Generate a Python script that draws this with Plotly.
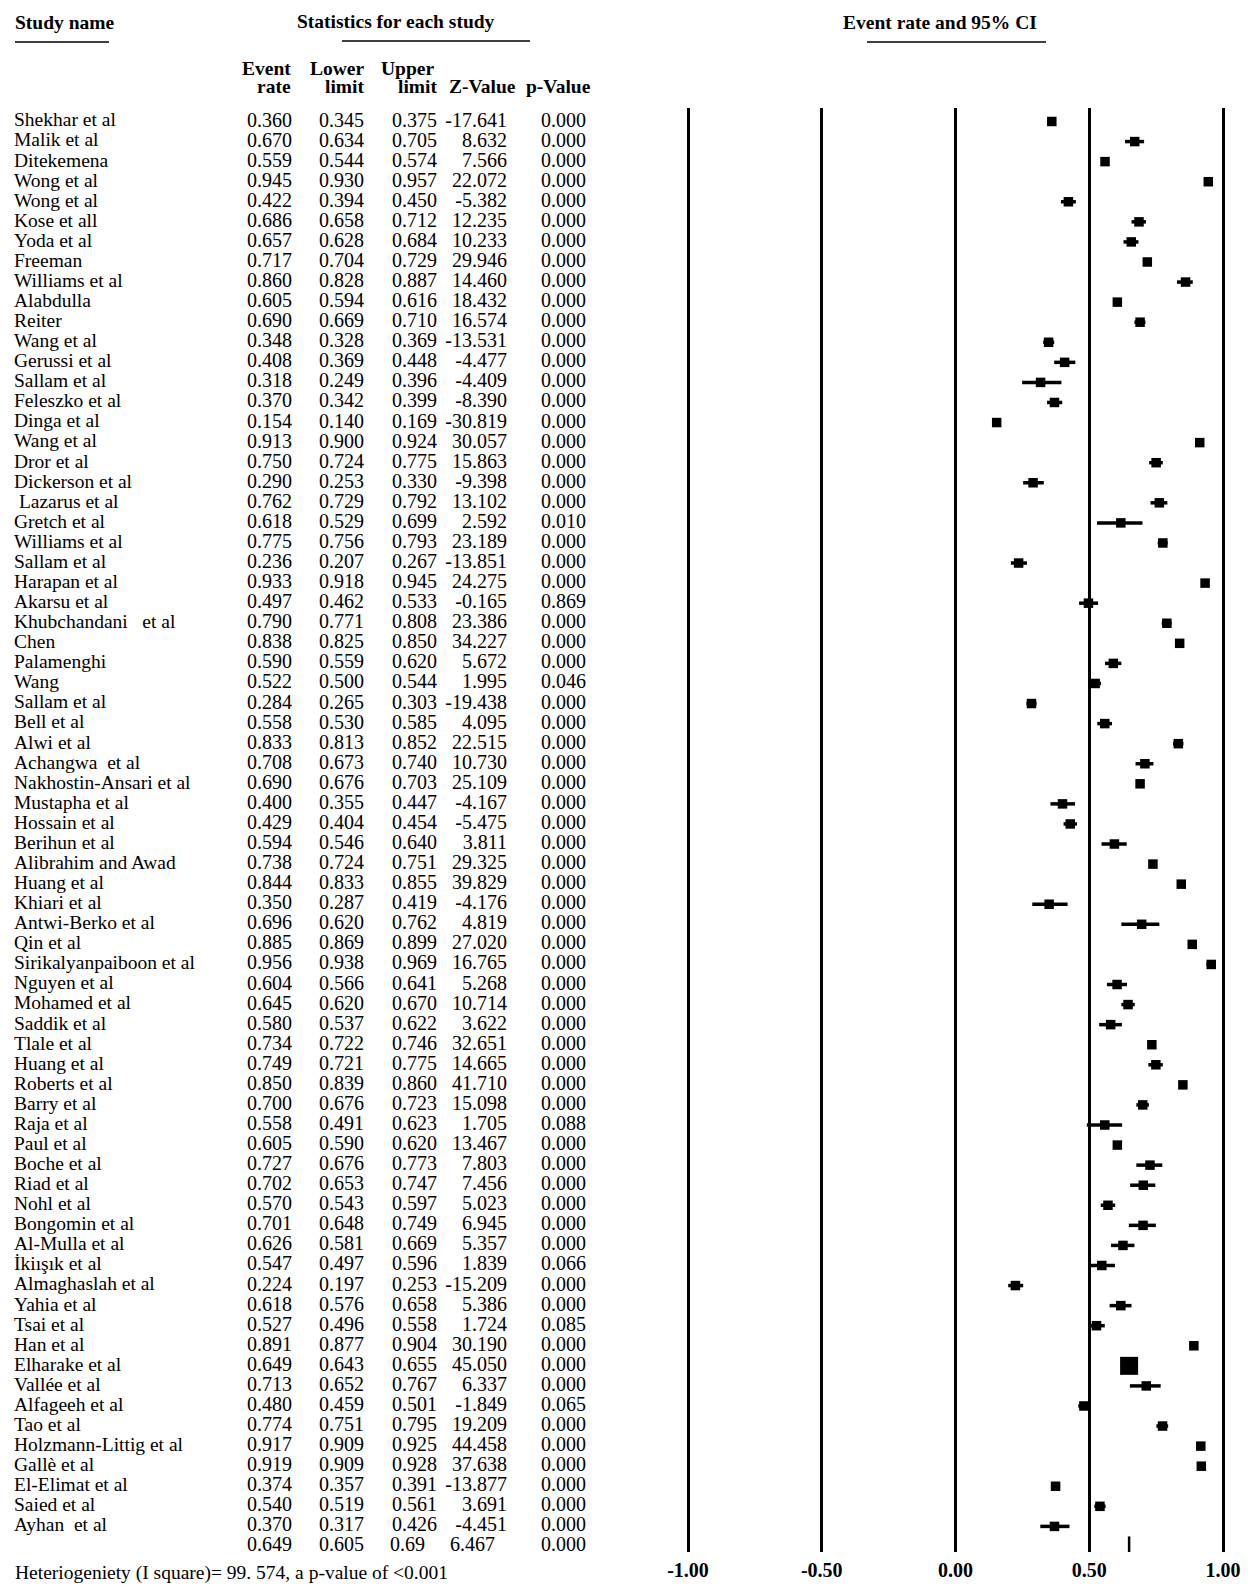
import plotly.graph_objects as go

# ---------------- data ----------------
study_names = [
    "Shekhar et al", "Malik et al", "Ditekemena", "Wong et al", "Wong et al", "Kose et all",
    "Yoda et al", "Freeman", "Williams et al", "Alabdulla", "Reiter", "Wang et al",
    "Gerussi et al", "Sallam et al", "Feleszko et al", "Dinga et al", "Wang et al", "Dror et al",
    "Dickerson et al", "\u00a0Lazarus et al", "Gretch et al", "Williams et al", "Sallam et al",
    "Harapan et al", "Akarsu et al", "Khubchandani\u00a0\u00a0 et al", "Chen", "Palamenghi", "Wang",
    "Sallam et al", "Bell et al", "Alwi et al", "Achangwa\u00a0 et al", "Nakhostin-Ansari et al",
    "Mustapha et al", "Hossain et al", "Berihun et al", "Alibrahim and Awad", "Huang et al",
    "Khiari et al", "Antwi-Berko et al", "Qin et al", "Sirikalyanpaiboon et al", "Nguyen et al",
    "Mohamed et al", "Saddik et al", "Tlale et al", "Huang et al", "Roberts et al", "Barry et al",
    "Raja et al", "Paul et al", "Boche et al", "Riad et al", "Nohl et al", "Bongomin et al",
    "Al-Mulla et al", "İkiışık et al", "Almaghaslah et al", "Yahia et al", "Tsai et al",
    "Han et al", "Elharake et al", "Vallée et al", "Alfageeh et al", "Tao et al",
    "Holzmann-Littig et al", "Gallè et al", "El-Elimat et al", "Saied et al", "Ayhan\u00a0 et al",
]
event_rate = [
    0.360, 0.670, 0.559, 0.945, 0.422, 0.686, 0.657, 0.717, 0.860, 0.605, 0.690, 0.348,
    0.408, 0.318, 0.370, 0.154, 0.913, 0.750, 0.290, 0.762, 0.618, 0.775, 0.236, 0.933,
    0.497, 0.790, 0.838, 0.590, 0.522, 0.284, 0.558, 0.833, 0.708, 0.690, 0.400, 0.429,
    0.594, 0.738, 0.844, 0.350, 0.696, 0.885, 0.956, 0.604, 0.645, 0.580, 0.734, 0.749,
    0.850, 0.700, 0.558, 0.605, 0.727, 0.702, 0.570, 0.701, 0.626, 0.547, 0.224, 0.618,
    0.527, 0.891, 0.649, 0.713, 0.480, 0.774, 0.917, 0.919, 0.374, 0.540, 0.370,
]
lower_limit = [
    0.345, 0.634, 0.544, 0.930, 0.394, 0.658, 0.628, 0.704, 0.828, 0.594, 0.669, 0.328,
    0.369, 0.249, 0.342, 0.140, 0.900, 0.724, 0.253, 0.729, 0.529, 0.756, 0.207, 0.918,
    0.462, 0.771, 0.825, 0.559, 0.500, 0.265, 0.530, 0.813, 0.673, 0.676, 0.355, 0.404,
    0.546, 0.724, 0.833, 0.287, 0.620, 0.869, 0.938, 0.566, 0.620, 0.537, 0.722, 0.721,
    0.839, 0.676, 0.491, 0.590, 0.676, 0.653, 0.543, 0.648, 0.581, 0.497, 0.197, 0.576,
    0.496, 0.877, 0.643, 0.652, 0.459, 0.751, 0.909, 0.909, 0.357, 0.519, 0.317,
]
upper_limit = [
    0.375, 0.705, 0.574, 0.957, 0.450, 0.712, 0.684, 0.729, 0.887, 0.616, 0.710, 0.369,
    0.448, 0.396, 0.399, 0.169, 0.924, 0.775, 0.330, 0.792, 0.699, 0.793, 0.267, 0.945,
    0.533, 0.808, 0.850, 0.620, 0.544, 0.303, 0.585, 0.852, 0.740, 0.703, 0.447, 0.454,
    0.640, 0.751, 0.855, 0.419, 0.762, 0.899, 0.969, 0.641, 0.670, 0.622, 0.746, 0.775,
    0.860, 0.723, 0.623, 0.620, 0.773, 0.747, 0.597, 0.749, 0.669, 0.596, 0.253, 0.658,
    0.558, 0.904, 0.655, 0.767, 0.501, 0.795, 0.925, 0.928, 0.391, 0.561, 0.426,
]
z_value = [
    -17.641, 8.632, 7.566, 22.072, -5.382, 12.235, 10.233, 29.946, 14.460, 18.432, 16.574, -13.531,
    -4.477, -4.409, -8.390, -30.819, 30.057, 15.863, -9.398, 13.102, 2.592, 23.189, -13.851, 24.275,
    -0.165, 23.386, 34.227, 5.672, 1.995, -19.438, 4.095, 22.515, 10.730, 25.109, -4.167, -5.475,
    3.811, 29.325, 39.829, -4.176, 4.819, 27.020, 16.765, 5.268, 10.714, 3.622, 32.651, 14.665,
    41.710, 15.098, 1.705, 13.467, 7.803, 7.456, 5.023, 6.945, 5.357, 1.839, -15.209, 5.386,
    1.724, 30.190, 45.050, 6.337, -1.849, 19.209, 44.458, 37.638, -13.877, 3.691, -4.451,
]
p_value = [
    0.000, 0.000, 0.000, 0.000, 0.000, 0.000, 0.000, 0.000, 0.000, 0.000, 0.000, 0.000,
    0.000, 0.000, 0.000, 0.000, 0.000, 0.000, 0.000, 0.000, 0.010, 0.000, 0.000, 0.000,
    0.869, 0.000, 0.000, 0.000, 0.046, 0.000, 0.000, 0.000, 0.000, 0.000, 0.000, 0.000,
    0.000, 0.000, 0.000, 0.000, 0.000, 0.000, 0.000, 0.000, 0.000, 0.000, 0.000, 0.000,
    0.000, 0.000, 0.088, 0.000, 0.000, 0.000, 0.000, 0.000, 0.000, 0.066, 0.000, 0.000,
    0.085, 0.000, 0.000, 0.000, 0.065, 0.000, 0.000, 0.000, 0.000, 0.000, 0.000,
]
summary_rate = 0.649
summary_lower = 0.605
summary_upper = 0.69
summary_z = 6.467
summary_p = 0.000
heterogeneity_text = "Heteriogeniety (I square)= 99. 574, a p-value of <0.001"
x_ticks = [-1.0, -0.5, 0.0, 0.5, 1.0]
x_tick_labels = ["-1.00", "-0.50", "0.00", "0.50", "1.00"]
big_weight_study = "Elharake et al"

# ---------------- layout geometry (pixels) ----------------
W, H = 1248, 1594
PLOT_TOP, PLOT_BOT = 108, 1552
X_M1_PX, PX_PER_UNIT = 688.0, 267.5      # pixel of x=-1, pixels per unit
ROW0_PX, ROW_STEP = 121.5, 20.07         # first row centre, row spacing
FONT = "Liberation Serif"
NAME_SIZE = 19.5
NUM_SIZE = 20
HEAD = 19.5

def px_to_x(px):
    return -1 + (px - X_M1_PX) / PX_PER_UNIT

def py_to_paper(py):
    return (PLOT_BOT - py) / (PLOT_BOT - PLOT_TOP)

def py_to_row(py):
    return (py - ROW0_PX) / ROW_STEP

n = len(study_names)
rows = list(range(n))
summary_row = n

fig = go.Figure()

# CI lines + squares
sizes = [18 if s == big_weight_study else 9.5 for s in study_names]
fig.add_trace(go.Scatter(
    x=event_rate, y=rows, mode="markers",
    marker=dict(symbol="square", size=sizes, color="black", opacity=1, line=dict(width=0)),
    error_x=dict(type="data", symmetric=False,
                 array=[u - e for u, e in zip(upper_limit, event_rate)],
                 arrayminus=[e - l for e, l in zip(event_rate, lower_limit)],
                 color="black", thickness=3.5, width=0),
    hoverinfo="skip", showlegend=False,
))

# summary mark
fig.add_trace(go.Scatter(
    x=[summary_rate, summary_rate], y=[summary_row - 0.5, summary_row + 0.3],
    mode="lines", line=dict(color="black", width=2.5),
    hoverinfo="skip", showlegend=False,
))

def text_col(texts, ys, px, pos, size=NUM_SIZE):
    fig.add_trace(go.Scatter(
        x=[px_to_x(px)] * len(texts), y=ys, mode="text", text=texts,
        textposition=pos, textfont=dict(family=FONT, size=size, color="black"),
        cliponaxis=False, hoverinfo="skip", showlegend=False,
    ))

fmt = lambda v: f"{v:.3f}"
text_col(study_names, rows, 14, "middle right", NAME_SIZE)
text_col([fmt(v) for v in event_rate] + [fmt(summary_rate)], rows + [summary_row], 292, "middle left")
text_col([fmt(v) for v in lower_limit] + [fmt(summary_lower)], rows + [summary_row], 364, "middle left")
text_col([fmt(v) for v in upper_limit], rows, 437, "middle left")
text_col([f"{summary_upper:g}"], [summary_row], 390, "middle right")
text_col([fmt(v) for v in z_value], rows, 507, "middle left")
text_col([fmt(summary_z)], [summary_row], 495, "middle left")
text_col([fmt(v) for v in p_value] + [fmt(summary_p)], rows + [summary_row], 586, "middle left")

annotations = []
def ann(text, px, py, anchor, bold=True, size=HEAD):
    annotations.append(dict(
        text=f"<b>{text}</b>" if bold else text, xref="paper", yref="paper",
        x=px / W, y=py_to_paper(py), xanchor=anchor, yanchor="middle",
        showarrow=False, font=dict(family=FONT, size=size, color="black"),
    ))

ann("Study name", 13, 23, "left")
ann("Statistics for each study", 396, 21, "center")
ann("Event rate and 95% CI", 940, 22, "center")
ann("Event", 293, 69, "right")
ann("rate", 293, 87, "right")
ann("Lower", 366, 69, "right")
ann("limit", 366, 87, "right")
ann("Upper", 379, 69, "left")
ann("limit", 439, 87, "right")
ann("Z-Value", 518, 87, "right")
ann("p-Value", 593, 87, "right")
ann(heterogeneity_text, 13, 1573, "left", False, NAME_SIZE)

shapes = []
for x0, x1, py in [(15, 109, 42), (342, 530, 41), (867, 1046, 42)]:
    shapes.append(dict(type="line", xref="paper", yref="paper",
                       x0=x0 / W, x1=x1 / W, y0=py_to_paper(py), y1=py_to_paper(py),
                       line=dict(color="black", width=1.5)))

fig.update_layout(
    width=W, height=H,
    margin=dict(l=0, r=0, t=PLOT_TOP, b=H - PLOT_BOT),
    paper_bgcolor="white", plot_bgcolor="white",
    annotations=annotations, shapes=shapes,
    xaxis=dict(range=[px_to_x(0), px_to_x(W)], tickvals=x_ticks, ticktext=x_tick_labels,
               showgrid=True, gridcolor="black", gridwidth=2.5, zeroline=False,
               showline=False, ticks="", ticklabelstandoff=4,
               tickfont=dict(family=FONT, size=20, color="black", weight="bold"),
               fixedrange=True),
    yaxis=dict(range=[py_to_row(PLOT_BOT), py_to_row(PLOT_TOP)], showgrid=False,
               zeroline=False, showticklabels=False, showline=False, ticks="",
               fixedrange=True),
)

fig.write_html("out.html", config={"displayModeBar": False},
               post_script="document.body.style.margin='0px';document.body.style.overflow='hidden';")
